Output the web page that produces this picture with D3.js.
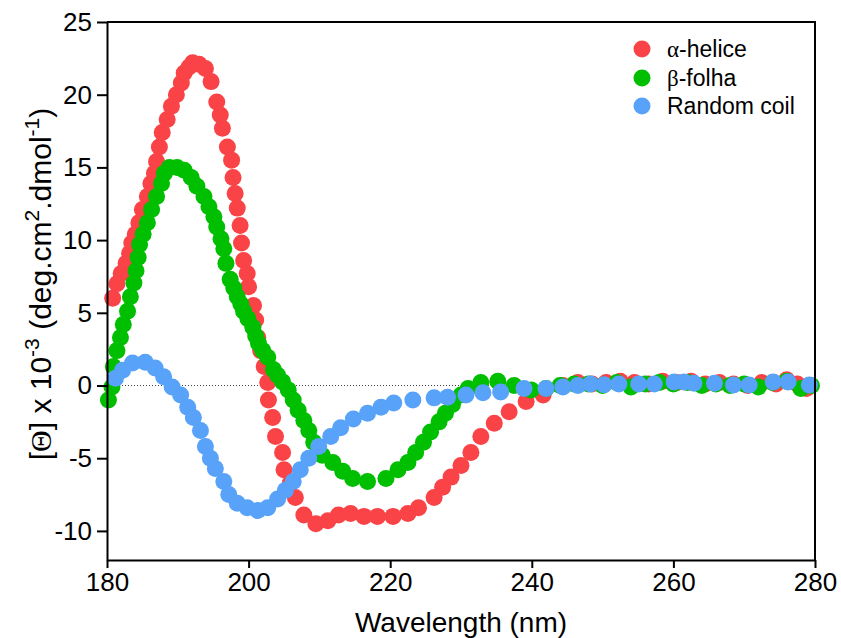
<!DOCTYPE html>
<html><head><meta charset="utf-8">
<script src="https://cdn.jsdelivr.net/npm/d3@7"></script>
<style>body{margin:0;background:#fff}</style>
</head><body><svg id="c" width="841" height="638"></svg>
<script>
// α-helice
const alphaX=[180.8,181.4,182.0,182.7,183.2,183.5,184.0,184.5,185.0,185.7,186.2,186.7,187.0,187.4,187.8,188.5,189.1,189.8,190.5,190.9,191.6,192.1,193.0,193.9,194.7,195.5,196.0,196.3,197.0,197.6,197.8,198.1,198.4,198.8,199.0,199.3,199.8,200.0,200.7,201.0,201.3,201.7,202.2,202.7,202.8,203.4,203.8,204.8,205.0,205.9,206.6,207.8,209.5,211.2,212.7,214.4,216.3,218.2,220.4,222.5,224.0,226.2,227.4,228.6,230.0,231.4,232.8,234.7,236.8,239.2,241.6,244.4,246.5,248.5,250.5,252.5,254.5,256.5,258.5,260.5,262.5,264.5,266.5,268.5,270.5,272.5,274.5,276.0,277.5,278.8];
const alphaY=[6.0,7.0,7.7,8.4,9.1,9.8,10.4,11.2,12.1,13.0,13.9,14.6,15.4,16.4,17.4,18.3,19.2,20.0,20.8,21.5,21.9,22.2,22.1,21.8,20.9,19.5,18.6,17.7,16.4,15.5,14.3,13.2,12.2,11.0,9.8,8.6,7.7,6.8,5.5,4.5,3.3,2.4,1.3,0.2,-1.0,-2.2,-3.5,-4.6,-5.8,-6.7,-7.7,-8.9,-9.5,-9.3,-8.9,-8.8,-9.0,-9.0,-9.0,-8.8,-8.4,-7.7,-7.0,-6.3,-5.5,-4.6,-3.5,-2.6,-1.8,-1.1,-0.65,0.0,0.2,0.1,0.2,0.3,0.2,0.1,0.3,0.2,0.3,0.1,0.2,0.1,0.0,0.2,0.1,0.4,0.1,-0.2];
// β-folha
const betaX=[180.2,180.7,180.9,181.4,181.9,182.3,182.9,183.3,183.8,184.1,184.4,184.6,185.1,185.7,186.3,187.0,187.7,188.1,188.8,189.9,190.9,191.9,192.7,193.7,194.4,195.1,195.5,196.1,196.5,196.8,197.4,197.9,198.4,198.9,199.3,199.9,200.6,201.0,201.4,202.0,202.7,203.5,204.1,204.8,205.6,206.3,207.0,207.8,208.5,209.2,210.4,211.9,213.3,214.7,216.8,219.4,221.1,222.5,223.6,224.7,225.7,226.9,227.8,228.8,230.0,231.0,232.8,235.2,237.5,239.9,242.0,244.0,246.0,248.0,250.0,252.0,254.0,256.0,258.0,260.0,262.0,264.0,266.0,268.0,270.0,272.0,274.0,276.0,278.0,279.5];
const betaY=[-1.0,-0.1,1.3,2.4,3.3,4.2,5.1,6.1,7.05,7.9,8.8,9.7,10.4,11.2,12.1,13.0,13.9,14.6,15.0,15.0,14.8,14.3,13.7,13.0,12.3,11.6,10.9,10.1,9.4,8.4,7.3,6.7,6.1,5.6,5.1,4.6,4.0,3.4,2.9,2.4,1.95,1.1,0.7,0.25,-0.3,-1.0,-1.7,-2.4,-3.1,-3.9,-4.8,-5.3,-5.9,-6.4,-6.6,-6.4,-5.8,-5.3,-4.6,-3.9,-3.2,-2.5,-1.9,-1.3,-0.65,-0.2,0.2,0.3,0.0,-0.3,-0.2,0.0,0.1,0.1,0.0,0.2,-0.1,0.1,0.2,0.1,0.2,0.0,0.1,0.0,0.1,-0.1,0.2,0.3,-0.2,0.0];
// Random coil
const coilX=[181.2,182.2,183.6,185.4,186.8,188.0,189.2,190.4,191.4,192.2,193.2,193.9,194.6,195.3,196.5,197.2,198.4,199.8,201.3,202.7,204.1,205.2,206.3,207.3,208.5,209.9,211.6,213.0,214.8,216.8,218.7,220.5,223.2,226.2,228.1,230.7,233.1,235.6,238.9,242.0,244.4,246.5,248.3,250.2,252.3,255.1,257.3,260.1,261.5,262.9,265.8,268.5,270.7,274.1,276.2,279.2];
const coilY=[0.5,1.05,1.55,1.6,1.2,0.6,-0.1,-0.65,-1.5,-2.2,-3.1,-4.2,-5.0,-5.7,-6.6,-7.5,-8.1,-8.4,-8.6,-8.4,-7.8,-7.2,-6.6,-5.8,-5.0,-4.2,-3.5,-2.9,-2.3,-1.9,-1.5,-1.2,-1.0,-0.85,-0.8,-0.65,-0.5,-0.45,-0.2,-0.2,-0.1,0.0,0.1,0.05,0.1,0.1,0.1,0.24,0.24,0.15,0.15,0.03,0.03,0.24,0.24,0.03];

const seriesNames=["α-helice","β-folha","Random coil"];
const seriesColors=["#F94346","#00BE00","#58A2F9"];
const xTicks=[180,200,220,240,260,280];
const yTicks=[-10,-5,0,5,10,15,20,25];

const svg=d3.select("#c");
const x=d3.scaleLinear().domain([180,280]).range([107,815]);
const y=d3.scaleLinear().domain([-12,25]).range([560,22]);
const FONT="'Liberation Sans', Arial, sans-serif";

// zero dotted line
svg.append("line").attr("x1",x(180)).attr("x2",x(280)).attr("y1",y(0)).attr("y2",y(0))
  .attr("stroke","#444").attr("stroke-width",1).attr("stroke-dasharray","1,2");

// data
const series=[[alphaX,alphaY],[betaX,betaY],[coilX,coilY]];
series.forEach((s,i)=>{
  const pts=s[0].map((v,j)=>[v,s[1][j]]);
  svg.append("g").selectAll("circle").data(pts).join("circle")
    .attr("cx",d=>x(d[0])).attr("cy",d=>y(d[1])).attr("r",8.5)
    .attr("fill",seriesColors[i]);
});

// frame top/right
svg.append("path").attr("d",`M${x(180)},${y(25)}H${x(280)}V${y(-12)}`)
  .attr("fill","none").attr("stroke","#000").attr("stroke-width",2);

// axes
const fmt=d=>String(d);
const ax=svg.append("g").attr("transform",`translate(0,${y(-12)})`)
  .call(d3.axisBottom(x).tickValues(xTicks).tickSize(8).tickSizeOuter(0).tickPadding(5).tickFormat(fmt));
const ay=svg.append("g").attr("transform",`translate(${x(180)},0)`)
  .call(d3.axisLeft(y).tickValues(yTicks).tickSize(10).tickSizeOuter(0).tickPadding(5).tickFormat(fmt));
[ax,ay].forEach(a=>{
  a.select(".domain").attr("stroke","#000").attr("stroke-width",2);
  a.selectAll(".tick line").attr("stroke","#000").attr("stroke-width",2);
  a.selectAll(".tick text").attr("fill","#000").style("font-family",FONT).style("font-size","26px");
});

// axis titles
svg.append("text").attr("x",(x(180)+x(280))/2).attr("y",632).attr("text-anchor","middle")
  .style("font-family",FONT).style("font-size","28px").text("Wavelength (nm)");

const yt=svg.append("text").attr("transform","translate(51,284) rotate(-90)")
  .attr("text-anchor","middle").style("font-family",FONT).style("font-size","30px");
yt.append("tspan").text("[");
yt.append("tspan").style("font-family","'Liberation Serif', serif").text("Θ");
yt.append("tspan").text("] x 10");
yt.append("tspan").attr("dy",-12).style("font-size","21px").text("-3");
yt.append("tspan").attr("dy",12).text(" (deg.cm");
yt.append("tspan").attr("dy",-12).style("font-size","21px").text("2");
yt.append("tspan").attr("dy",12).text(".dmol");
yt.append("tspan").attr("dy",-12).style("font-size","21px").text("-1");
yt.append("tspan").attr("dy",12).text(")");

// legend
const legY=[49,78,106];
seriesNames.forEach((n,i)=>{
  svg.append("circle").attr("cx",642).attr("cy",legY[i]).attr("r",8.5).attr("fill",seriesColors[i]);
  const t=svg.append("text").attr("x",667).attr("y",legY[i]+8).style("font-family",FONT).style("font-size","23px");
  if(i<2){
    t.append("tspan").style("font-family","'Liberation Serif', serif").text(n[0]);
    t.append("tspan").text(n.slice(1));
  } else t.text(n);
});
</script></body></html>
